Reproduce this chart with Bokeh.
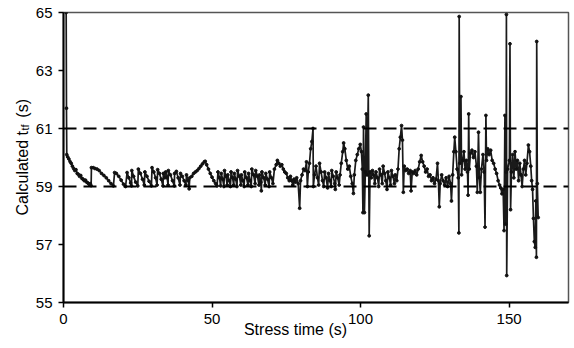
import math
from bokeh.plotting import figure
from bokeh.models import Range1d, FixedTicker, Span, Label, ColumnDataSource
from bokeh.embed import file_html
from bokeh.resources import INLINE

# ---- data ----
X_TICKS = [0, 50, 100, 150]
Y_TICKS = [55, 57, 59, 61, 63, 65]
THRESHOLDS = [59, 61]
X_LABEL = "Stress time (s)"
Y_LABEL_MAIN = "Calculated t\u00a0\u00a0\u00a0(s)"
Y_LABEL_SUB = "tf"

stress_time = [
    0.9, 1.0, 1.1, 1.4, 1.8, 2.2, 2.6, 3.0, 3.4, 3.8, 4.2, 4.6, 5.0, 5.4, 5.8, 6.2, 6.6, 7.0, 7.4, 7.8, 8.2, 8.6, 9.0, 9.3,
    9.4, 10.0, 10.6, 11.3, 12.0, 12.8, 13.6, 14.4, 15.2, 16.0, 16.8,
    17.2, 17.8, 18.6, 19.4, 20.2, 20.9,
    21.4, 22.0, 22.6, 22.9,
    23.0, 23.6, 24.3, 25.0,
    25.2, 25.9, 26.6, 27.2,
    27.4, 28.1, 28.8, 29.6,
    29.8, 30.4, 31.0, 31.5,
    31.7, 32.3, 32.9, 33.5,
    33.6, 34.1, 34.4, 34.9, 35.2,
    35.3, 36.0, 36.7, 37.3,
    37.4, 38.0, 38.6, 39.2,
    39.4, 40.0, 40.6, 41.2,
    41.4, 42.0, 42.3, 42.5,
    43.2, 43.8, 44.4, 45.0, 45.6, 46.2, 46.8, 47.4, 47.7, 48.2, 48.8, 49.4, 50.0, 50.6, 51.2, 51.7,
    52.0, 52.5, 52.9, 53.1, 53.6, 54.0, 54.2, 54.7, 55.1, 55.3, 55.8, 56.2, 56.4, 56.9, 57.3, 57.5, 58.0, 58.4,
    58.6, 59.2, 59.7, 59.9, 60.4, 60.8, 61.0, 61.6, 62.1, 62.3, 62.8, 63.2, 63.4, 64.0, 64.5, 64.7, 65.3, 65.8,
    66.0, 66.4, 66.6, 66.8, 67.4, 67.9, 68.1, 68.7, 69.2, 69.4, 70.0, 70.5,
    71.0, 71.6, 72.0, 72.5, 73.0, 73.5, 74.0, 74.5, 75.0, 75.5, 76.0, 76.4, 76.8, 77.2, 77.6, 78.0, 78.5, 79.0,
    79.5, 79.8, 80.3, 80.8, 81.3, 81.8, 82.1, 82.4, 82.8, 83.2, 83.6, 84.0, 84.1, 84.5, 85.0, 85.5, 85.9,
    86.2, 86.7, 87.2, 87.6, 87.9, 88.4, 88.9, 89.2, 89.7, 90.1, 90.3, 90.8, 91.3, 91.5, 91.8, 92.3, 92.8,
    93.1, 93.5, 94.0, 94.3, 94.7, 95.2, 95.7, 96.2, 96.7, 97.2, 97.6, 97.9, 98.4, 98.9, 99.4, 99.9, 100.3,
    100.6, 100.8, 101.0, 101.3, 101.6, 101.9, 102.2, 102.6, 102.9, 103.2, 103.6, 104.0, 104.4, 104.8,
    105.2, 105.7, 106.1, 106.4, 106.9, 107.3, 107.6, 108.1, 108.5, 108.9, 109.2, 109.7, 110.1, 110.4,
    110.9, 111.4, 111.7, 112.2, 112.6, 113.0, 113.4, 113.8, 114.1, 114.4, 114.7, 115.2, 115.7, 116.2,
    116.7, 117.0, 117.4, 117.9, 118.4, 118.9, 119.4, 119.9, 120.4, 120.9, 121.4, 121.9, 122.4, 122.9,
    123.4, 123.9, 124.4, 124.9, 125.4, 125.9, 126.2, 126.5, 126.8, 127.3, 127.8, 128.3, 128.8, 129.3,
    129.8, 130.3, 130.6, 131.0, 131.4, 131.7, 132.1, 132.5, 132.9, 133.1, 133.2, 133.4, 133.8, 134.0,
    134.4, 134.8, 135.2, 135.6, 136.0, 136.2, 136.4, 136.6, 137.0, 137.5, 138.0, 138.5, 139.0, 139.3,
    139.7, 140.0, 140.3, 140.7, 141.2, 141.6, 141.9, 142.2, 142.4, 142.8, 143.3, 143.8, 144.3, 144.8,
    145.3, 145.8, 146.3, 146.8, 147.2, 147.6, 148.0, 148.3, 148.6, 148.8, 149.0, 149.1, 149.2, 149.5,
    150.1, 150.3, 150.5, 150.8, 151.2, 151.6, 152.0, 152.4, 152.8, 153.2, 153.6, 154.0, 154.4, 154.8,
    155.2, 155.6, 156.0, 156.5, 156.9, 157.3, 157.6, 157.9, 158.2, 158.5, 158.8, 159.0, 159.2, 159.3,
    159.5, 159.8,
]

calculated_ttf = [
    65.0, 61.7, 60.1, 60.02, 59.95, 59.86, 59.8, 59.7, 59.62, 59.55, 59.58, 59.45, 59.42, 59.35, 59.38, 59.28, 59.25, 59.2, 59.22, 59.15, 59.12, 59.08, 59.1, 59.03,
    59.65, 59.65, 59.62, 59.6, 59.55, 59.45, 59.38, 59.3, 59.2, 59.1, 59.02,
    59.48, 59.45, 59.35, 59.22, 59.08, 59.0,
    59.48, 59.3, 59.12, 59.02,
    59.55, 59.35, 59.15, 59.02,
    59.6, 59.45, 59.25, 59.05,
    59.5, 59.35, 59.18, 59.02,
    59.65, 59.5, 59.3, 59.05,
    59.58, 59.45, 59.25, 59.02,
    59.45, 59.3, 59.5, 59.3, 59.05,
    59.55, 59.4, 59.2, 59.02,
    59.45, 59.52, 59.3, 59.05,
    59.45, 59.35, 59.2, 59.05,
    59.4, 59.2, 58.92, 59.3,
    59.35, 59.45, 59.5, 59.55, 59.62, 59.7, 59.78, 59.85, 59.87, 59.75, 59.6, 59.45, 59.32, 59.2, 59.1, 59.02,
    59.5, 59.3, 59.02, 59.45, 59.25, 59.0, 59.55, 59.35, 59.05, 59.4, 59.2, 59.0, 59.5, 59.3, 59.05, 59.45, 59.25, 59.0,
    59.55, 59.35, 59.05, 59.4, 59.2, 59.0, 59.5, 59.3, 59.05, 59.45, 59.2, 59.0, 59.6, 59.4, 59.1, 59.55, 59.35, 59.05,
    59.4, 59.15, 58.85, 59.5, 59.3, 59.05, 59.45, 59.25, 59.0, 59.5, 59.3, 59.1,
    59.6, 59.75, 59.9, 59.8, 59.7, 59.75, 59.6, 59.5, 59.45, 59.3, 59.2, 59.35, 59.2, 59.05, 59.25, 59.15, 59.3, 59.1,
    58.25, 59.2, 59.4, 59.6, 59.55, 59.85, 59.0, 59.5, 59.8, 60.3, 60.55, 61.0, 59.0, 59.4, 59.7, 59.3, 59.05,
    59.8, 59.5, 59.2, 59.0, 59.5, 59.3, 58.95, 59.45, 59.2, 59.0, 59.55, 59.35, 59.1, 58.9, 59.5, 59.3, 59.05,
    59.4, 59.8, 60.2, 60.5, 60.3, 59.9, 59.6, 59.7, 59.35, 59.1, 58.76, 59.4, 59.9, 60.1, 60.3, 60.45, 60.2,
    59.6, 58.1, 61.05, 58.1, 59.5, 61.5, 59.4, 62.15, 57.3, 59.5, 59.3, 59.55, 59.4, 59.1,
    59.5, 59.3, 59.0, 59.6, 59.4, 59.1, 59.7, 59.45, 59.2, 58.9, 59.5, 59.3, 59.05, 59.55,
    59.35, 59.1, 59.4, 59.2, 59.6, 60.3, 60.7, 61.1, 60.6, 58.8, 59.7, 59.55, 59.6, 59.45,
    59.55, 58.85, 59.5, 59.45, 59.55, 59.4, 59.6, 59.85, 60.07, 59.85, 59.7, 59.5, 59.6, 59.35,
    59.4, 59.2, 59.3, 59.1, 59.25, 59.8, 59.2, 58.3, 59.1, 59.4, 59.2, 59.05, 59.3, 59.0,
    59.35, 59.1, 58.5, 59.4, 60.2, 60.7, 60.2, 59.6, 59.3, 57.4, 64.86, 59.8, 62.1, 59.4,
    59.9, 60.2, 59.6, 59.9, 59.5, 58.7, 61.5, 59.6, 60.15, 60.25, 60.0, 60.2, 59.7, 58.8,
    60.87, 59.3, 58.8, 59.6, 60.1, 59.5, 57.6, 61.45, 59.9, 60.3, 60.1, 60.25, 59.9, 59.8,
    59.6, 59.45, 59.2, 59.05, 58.95, 58.75, 58.9, 57.48, 61.45, 57.7, 59.5, 64.93, 55.93, 59.6,
    59.9, 63.92, 58.2, 59.5, 60.1, 59.3, 60.2, 59.6, 59.9, 59.2, 59.8, 59.4, 59.0, 59.6,
    59.9, 59.4, 59.8, 60.43, 60.2, 59.7, 59.2, 58.9, 57.9, 57.1, 56.9, 58.5, 56.56, 64.0,
    59.1, 57.93,
]

FONT = "Liberation Sans"

source = ColumnDataSource(dict(t=stress_time, v=calculated_ttf))

p = figure(
    width=574, height=348,
    output_backend="svg", toolbar_location=None,
    x_range=Range1d(0, 170), y_range=Range1d(55, 65),
    min_border_left=63, min_border_right=6, min_border_top=12, min_border_bottom=46,
    background_fill_color="white", border_fill_color="white",
)
p.xgrid.visible = False
p.ygrid.visible = False
p.outline_line_color = "#555555"
p.outline_line_width = 1.5

for ax, ticks in ((p.xaxis, X_TICKS), (p.yaxis, Y_TICKS)):
    ax.ticker = FixedTicker(ticks=ticks)
    ax.axis_line_color = "black"
    ax.axis_line_width = 2
    ax.major_tick_line_color = "black"
    ax.major_tick_line_width = 1.5
    ax.major_tick_in = 0
    ax.major_tick_out = 5
    ax.minor_tick_line_color = None
    ax.major_label_text_font = FONT
    ax.major_label_text_font_size = "15px"
    ax.major_label_text_color = "black"
    ax.major_label_standoff = 6

# threshold dashed lines
for yv in THRESHOLDS:
    p.add_layout(Span(location=yv, dimension="width", line_color="black",
                      line_width=2, line_dash="13 7"))

p.line("t", "v", source=source, line_color="#1a1a1a", line_width=1.7)
p.scatter("t", "v", source=source, size=2.8, color="#111111")

# axis titles placed in side panels
p.add_layout(Label(x=232, y=14, x_units="screen", y_units="screen", text=X_LABEL,
                   text_align="center", text_baseline="alphabetic",
                   text_font=FONT, text_font_size="16px", text_color="black"), "below")
ang = math.pi / 2
p.add_layout(Label(x=7, y=87, x_units="screen", y_units="screen", text=Y_LABEL_MAIN,
                   angle=ang, text_align="left", text_baseline="alphabetic",
                   text_font=FONT, text_font_size="16px", text_color="black"), "left")
p.add_layout(Label(x=21, y=172, x_units="screen", y_units="screen", text=Y_LABEL_SUB,
                   angle=ang, text_align="left", text_baseline="alphabetic",
                   text_font=FONT, text_font_size="11px", text_color="black"), "left")

open("out.html", "w").write(file_html(p, INLINE))
